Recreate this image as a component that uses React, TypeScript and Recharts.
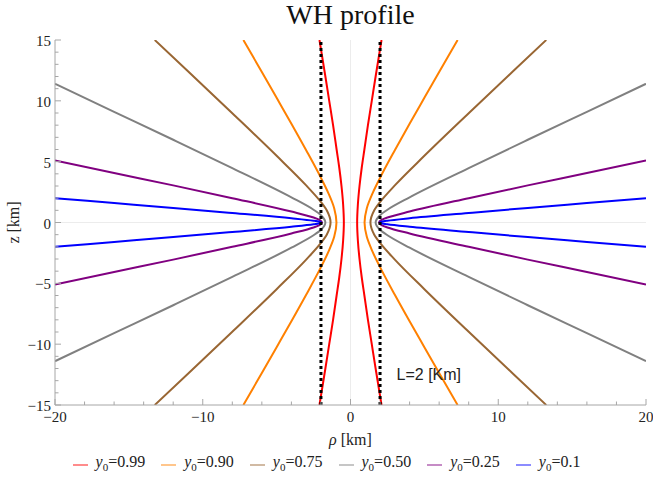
import React from 'react';
import { ComposedChart, Line, XAxis, YAxis, ReferenceLine, ReferenceDot } from 'recharts';

// throat radius L and axis ranges
const L = 2;
const rhoDomain = [-20, 20];
const zDomain = [-15, 15];

const rhoTicks = [-20, -18, -16, -14, -12, -10, -8, -6, -4, -2, 0, 2, 4, 6, 8, 10, 12, 14, 16, 18, 20];
const rhoMajor = [-20, -10, 0, 10, 20];
const zTicks = [-15, -14, -13, -12, -11, -10, -9, -8, -7, -6, -5, -4, -3, -2, -1, 0, 1, 2, 3, 4, 5, 6, 7, 8, 9, 10, 11, 12, 13, 14, 15];
const zMajor = [-15, -10, -5, 0, 5, 10, 15];

const y0Labels = ['0.99', '0.90', '0.75', '0.50', '0.25', '0.1'];
const colors = ['#ff0000', '#ff8000', '#996633', '#808080', '#800080', '#0000ff'];

// upper-right quarter of each profile, [rho, z]
const prof099 = [[0.45, 0], [0.5, 1.5], [0.61, 3], [0.76, 4.5], [0.94, 6], [1.18, 8], [1.44, 10], [1.7, 12], [2.1, 15]];
const prof090 = [[0.95, 0], [1.1, 1.16], [1.5, 2.42], [2, 3.67], [3, 5.94], [4, 8.12], [5, 10.25], [6, 12.37], [7.25, 15]];
const prof075 = [[1.35, 0], [1.6, 0.98], [2, 1.68], [3, 3.05], [5, 5.48], [8, 8.98], [11, 12.43], [13.25, 15]];
const prof050 = [[1.7, 0], [2, 0.6], [2.5, 1.05], [4, 2.07], [8, 4.47], [12, 6.8], [16, 9.1], [20, 11.4]];
const prof025 = [[1.93, 0], [2.1, 0.21], [2.5, 0.41], [4, 0.9], [8, 2.0], [12, 3.05], [16, 4.07], [20, 5.1]];
const prof010 = [[1.98, 0], [2.1, 0.07], [2.5, 0.15], [4, 0.35], [8, 0.78], [12, 1.2], [16, 1.6], [20, 2.0]];

const profiles = [prof099, prof090, prof075, prof050, prof025, prof010];

const note = { rho: 5.3, z: -12.5, text: 'L=2 [Km]' };

const FRAME = '#a6a6a6';
const SERIF = "'Liberation Serif', 'DejaVu Serif', serif";
const SANS = "'Liberation Sans', Arial, sans-serif";

// one side of a profile, ordered by z from bottom to top
const branch = (q: number[][], side: number) => {
  const lower = [...q].reverse().map(([r, z]) => ({ x: side * r, y: -z }));
  const upper = q.slice(1).map(([r, z]) => ({ x: side * r, y: z }));
  return [...lower, ...upper];
};

const fmt = (v: number) => (v < 0 ? '\u2212' + Math.abs(v) : String(v));

const serifText = { fontFamily: SERIF, fontSize: 15, fill: '#222' };

const BottomTick = (props: any) => {
  const { x, y, payload } = props;
  const major = rhoMajor.includes(payload.value);
  const base = y - 4;
  return (
    <g>
      <line x1={x} x2={x} y1={base} y2={base - (major ? 6 : 3.5)} stroke={FRAME} />
      {major && (
        <text x={x} y={y} dy="0.85em" textAnchor="middle" style={serifText}>
          {fmt(payload.value)}
        </text>
      )}
    </g>
  );
};

const TopTick = (props: any) => {
  const { x, y, payload } = props;
  const major = rhoMajor.includes(payload.value);
  return <line x1={x} x2={x} y1={y} y2={y + (major ? 6 : 3.5)} stroke={FRAME} />;
};

const LeftTick = (props: any) => {
  const { x, y, payload } = props;
  const major = zMajor.includes(payload.value);
  const base = x + 4;
  return (
    <g>
      <line x1={base} x2={base + (major ? 6 : 3.5)} y1={y} y2={y} stroke={FRAME} />
      {major && (
        <text x={x} y={y} dy="0.4em" textAnchor="end" style={serifText}>
          {fmt(payload.value)}
        </text>
      )}
    </g>
  );
};

const RightTick = (props: any) => {
  const { x, y, payload } = props;
  const major = zMajor.includes(payload.value);
  return <line x1={x} x2={x - (major ? 6 : 3.5)} y1={y} y2={y} stroke={FRAME} />;
};

const XLabel = (props: any) => {
  const vb = props.viewBox;
  return (
    <text x={vb.x + vb.width / 2} y={vb.y + 40} textAnchor="middle" style={{ ...serifText, fontSize: 16 }}>
      <tspan fontStyle="italic">ρ</tspan> [km]
    </text>
  );
};

const YLabel = (props: any) => {
  const vb = props.viewBox;
  const cx = 19;
  const cy = vb.y + vb.height / 2;
  return (
    <text x={cx} y={cy} transform={`rotate(-90 ${cx} ${cy})`} textAnchor="middle" style={{ ...serifText, fontSize: 16 }}>
      z [km]
    </text>
  );
};

export default function App() {
  return (
    <div style={{ position: 'absolute', left: 0, top: 0, width: 653, height: 502, background: '#fff', fontFamily: SERIF }}>
      <div style={{ position: 'absolute', left: 55, top: -2, width: 591, textAlign: 'center', fontSize: 28, lineHeight: '34px', color: '#111' }}>
        WH profile
      </div>
      <ComposedChart width={653} height={502} margin={{ top: 40, right: 7, bottom: 67, left: 0 }}>
        <XAxis
          xAxisId="b"
          dataKey="x"
          type="number"
          domain={rhoDomain}
          allowDataOverflow
          ticks={rhoTicks}
          interval={0}
          height={30}
          tickSize={0}
          tickMargin={4}
          tickLine={false}
          tick={BottomTick}
          axisLine={{ stroke: FRAME }}
          label={<XLabel />}
        />
        <XAxis
          xAxisId="t"
          orientation="top"
          dataKey="x"
          type="number"
          domain={rhoDomain}
          allowDataOverflow
          ticks={rhoTicks}
          interval={0}
          height={0}
          tickSize={0}
          tickMargin={0}
          tickLine={false}
          tick={TopTick}
          axisLine={{ stroke: FRAME }}
        />
        <YAxis
          yAxisId="l"
          type="number"
          domain={zDomain}
          allowDataOverflow
          ticks={zTicks}
          interval={0}
          width={55}
          tickSize={0}
          tickMargin={4}
          tickLine={false}
          tick={LeftTick}
          axisLine={{ stroke: FRAME }}
          label={<YLabel />}
        />
        <YAxis
          yAxisId="r"
          orientation="right"
          type="number"
          domain={zDomain}
          allowDataOverflow
          ticks={zTicks}
          interval={0}
          width={0}
          tickSize={0}
          tickMargin={0}
          tickLine={false}
          tick={RightTick}
          axisLine={{ stroke: FRAME }}
        />
        <ReferenceLine xAxisId="b" yAxisId="l" x={0} stroke="#ececec" />
        <ReferenceLine xAxisId="b" yAxisId="l" y={0} stroke="#ececec" />
        {profiles.map((q, i) =>
          [-1, 1].map((side) => (
            <Line
              key={`${i}-${side}`}
              xAxisId="b"
              yAxisId="l"
              data={branch(q, side)}
              dataKey="y"
              type="monotoneY"
              stroke={colors[i]}
              strokeWidth={2}
              dot={false}
              activeDot={false}
              isAnimationActive={false}
            />
          ))
        )}
        {[-L, L].map((v) => (
          <ReferenceLine key={v} xAxisId="b" yAxisId="l" x={v} stroke="#000" strokeWidth={3} strokeDasharray="3 3" />
        ))}
        <ReferenceDot
          xAxisId="b"
          yAxisId="l"
          x={note.rho}
          y={note.z}
          r={0}
          shape={(p: any) => (
            <text x={p.cx} y={p.cy} dy="0.35em" textAnchor="middle" style={{ fontFamily: SANS, fontSize: 16, fill: '#222' }}>
              {note.text}
            </text>
          )}
        />
      </ComposedChart>
      <div style={{ position: 'absolute', left: 0, top: 451, width: 653, display: 'flex', justifyContent: 'center', gap: 16, fontSize: 16, lineHeight: '22px', color: '#222' }}>
        {y0Labels.map((lab, i) => (
          <div key={lab} style={{ display: 'flex', alignItems: 'center' }}>
            <span style={{ display: 'inline-block', width: 15, height: 2, background: colors[i], opacity: 0.45, marginRight: 8 }} />
            <span>
              <i>y</i>
              <sub style={{ fontSize: 11 }}>0</sub>={lab}
            </span>
          </div>
        ))}
      </div>
    </div>
  );
}
